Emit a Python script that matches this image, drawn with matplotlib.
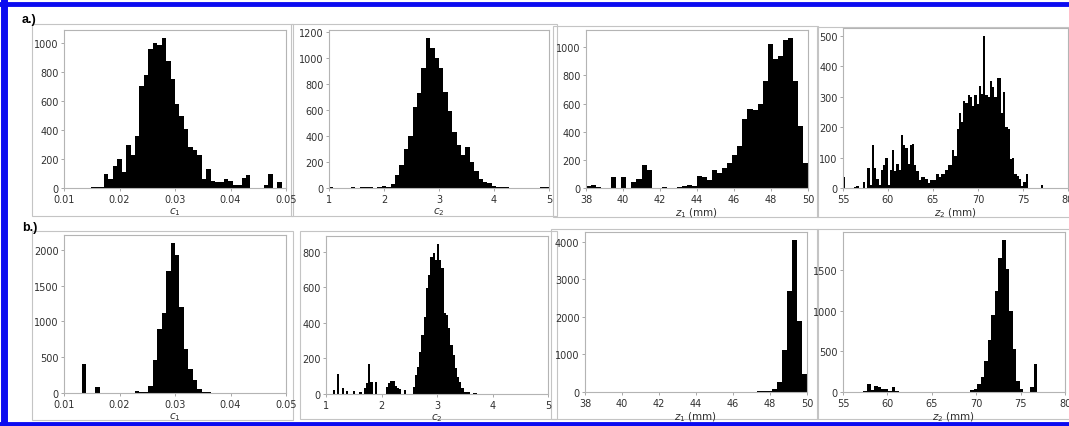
import numpy as np
import matplotlib
matplotlib.use('Agg')
import matplotlib.pyplot as plt
from matplotlib.patches import Rectangle
from matplotlib.lines import Line2D
from matplotlib.ticker import MultipleLocator

# ---------------- data (histogram bin counts) ----------------
# row a.)
a1_range = (0.01, 0.05)
a1_counts = [2, 0, 0, 0, 0, 3, 8, 4, 5, 99,
             64, 152, 202, 110, 299, 225, 359, 708, 784, 961,
             1002, 988, 1041, 880, 754, 582, 497, 409, 283, 260,
             230, 64, 129, 46, 41, 41, 64, 46, 23, 23,
             69, 87, 0, 0, 0, 20, 99, 0, 41, 0]

a2_range = (1.0, 5.0)
a2_counts = [5, 3, 2, 3, 2, 4, 3, 4, 10, 5,
             3, 6, 12, 10, 33, 97, 179, 301, 398, 620,
             728, 922, 1157, 1080, 1000, 922, 735, 595, 429, 327,
             255, 319, 199, 128, 71, 46, 40, 18, 10, 6,
             4, 3, 2, 3, 2, 2, 3, 2, 6, 10]

a3_range = (38.0, 50.0)
a3_counts = [15, 18, 5, 0, 3, 80, 0, 75, 0, 45,
             65, 165, 130, 3, 0, 8, 0, 2, 5, 12,
             20, 15, 85, 75, 60, 125, 110, 145, 180, 235,
             300, 490, 560, 555, 600, 760, 1025, 915, 940, 1050,
             1070, 760, 440, 180]

a4_range = (55.0, 78.0)
a4_counts = [35, 0, 0, 0, 0, 3, 5, 0, 0, 20, 0, 65, 10,
             142, 65, 30, 10, 60, 75, 100, 10, 60, 125,
             55, 80, 60, 175, 140, 130, 80, 140, 145, 75,
             55, 25, 35, 35, 30, 15, 25, 25, 25, 45,
             35, 45, 45, 60, 75, 75, 125, 105, 195, 245,
             215, 285, 280, 305, 300, 270, 305, 275, 335, 310,
             500, 305, 300, 350, 330, 300, 360, 360, 245, 315,
             200, 195, 95, 100, 45, 40, 30, 5, 20, 45,
             0, 0, 0, 0, 0, 0, 10, 0, 0, 0]

# row b.)
b1_range = (0.01, 0.05)
b1_counts = [0, 0, 0, 0, 400, 0, 0, 80, 0, 0,
             0, 0, 0, 0, 2, 5, 30, 8, 10, 93,
             465, 888, 1121, 1707, 2102, 1930, 1200, 620, 335, 185,
             50, 20, 8, 4, 3, 2, 2, 2, 2, 2,
             2, 3, 6, 2, 0, 0, 0, 0, 0, 0]

b2_range = (1.0, 5.0)
b2_counts = [0, 0, 0, 22, 0, 110, 0, 32, 0, 19,
             0, 0, 15, 0, 0, 13, 0, 32, 60, 167,
             69, 0, 65, 0, 0, 0, 0, 41, 64, 75,
             75, 47, 33, 28, 0, 22, 0, 0, 0, 40,
             107, 154, 238, 331, 434, 594, 669, 772, 790, 753,
             846, 753, 706, 453, 444, 369, 275, 219, 144, 97,
             69, 32, 13, 9, 9, 0, 7, 7, 0, 0,
             0, 0, 0, 0, 0, 0, 0, 0, 0, 0,
             0, 0, 0, 0, 0, 0, 0, 0, 0, 0,
             0, 0, 0, 0, 0, 0, 0, 0, 0, 0]

b3_range = (38.0, 50.0)
b3_counts = [0, 0, 0, 0, 0, 0, 0, 0, 0, 0,
             0, 0, 0, 0, 0, 0, 0, 0, 0, 0,
             0, 0, 0, 0, 0, 0, 0, 0, 12, 4,
             3, 8, 10, 12, 15, 15, 25, 80, 270, 1130,
             2700, 4060, 1900, 490]

b4_range = (57.3, 76.9)
b4_counts = [8, 100, 25, 70, 65, 40, 35, 10, 65, 12,
             3, 0, 2, 0, 2, 3, 2, 0, 2, 3,
             2, 0, 3, 2, 0, 3, 2, 3, 2, 5,
             20, 35, 100, 180, 380, 640, 950, 1250, 1650, 1880,
             1520, 1000, 530, 130, 40, 0, 0, 60, 350]

xlabels = ['$c_1$', '$c_2$', '$z_1$ (mm)', '$z_2$ (mm)']
xlims = [(0.01, 0.05), (1, 5), (38, 50), (55, 80)]
xsteps = [0.01, 1, 2, 5]
ysteps_a = [200, 200, 200, 100]
ysteps_b = [500, 200, 1000, 500]
row_labels = ['a.)', 'b.)']

# ---------------- layout (pixels) ----------------
W, H = 1069, 427
fig = plt.figure(figsize=(W / 100, H / 100), dpi=100)

def px_axes(left, top, right, bottom):
    return fig.add_axes([left / W, 1 - bottom / H, (right - left) / W, (bottom - top) / H])

axes_px = [
    [(64, 31, 286, 189), (329, 31, 549, 189), (586, 31, 808, 189), (843, 29, 1068, 189)],
    [(64, 236, 286, 394), (326, 237, 548, 395), (585, 233, 807, 393), (843, 233, 1065, 393)],
]
frames_px = [
    [(32, 25, 293, 217), (291, 25, 557, 217), (553, 27, 818, 218), (817, 28, 1075, 218)],
    [(32, 232, 293, 421), (300, 232, 557, 420), (551, 230, 818, 420), (817, 230, 1075, 420)],
]

# light grey frames of the individual sub-images
for row in frames_px:
    for (l, t, r, b) in row:
        fig.add_artist(Rectangle((l / W, 1 - b / H), (r - l) / W, (b - t) / H,
                                 transform=fig.transFigure, fill=False,
                                 edgecolor='#c4c4c4', lw=0.8, zorder=0))

rows = [
    [(a1_range, a1_counts), (a2_range, a2_counts), (a3_range, a3_counts), (a4_range, a4_counts)],
    [(b1_range, b1_counts), (b2_range, b2_counts), (b3_range, b3_counts), (b4_range, b4_counts)],
]
ysteps = [ysteps_a, ysteps_b]

for r in range(2):
    for c in range(4):
        ax = px_axes(*axes_px[r][c])
        rng, counts = rows[r][c]
        counts = np.asarray(counts, dtype=float)
        edges = np.linspace(rng[0], rng[1], len(counts) + 1)
        ax.bar(edges[:-1], counts, width=np.diff(edges), align='edge',
               color='black', linewidth=0)
        ax.set_xlim(*xlims[c])
        ax.set_ylim(0, counts.max() * 1.05)
        ax.xaxis.set_major_locator(MultipleLocator(xsteps[c]))
        ax.yaxis.set_major_locator(MultipleLocator(ysteps[r][c]))
        if c == 0:
            ax.xaxis.set_major_formatter(matplotlib.ticker.FormatStrFormatter('%.2f'))
        ax.tick_params(labelsize=7, length=2.5, width=0.6, pad=1.5,
                       colors='#9a9a9a', labelcolor='#303030')
        for s in ax.spines.values():
            s.set_color('#b4b4b4')
            s.set_linewidth(0.8)
        ax.set_xlabel(xlabels[c], fontsize=7.5, color='#303030', labelpad=1)

# row labels
fig.text(22 / W, 1 - 20 / H, row_labels[0], fontsize=9, fontweight='bold',
         family='Liberation Sans', va='center', ha='left')
fig.text(22 / W, 1 - 228 / H, row_labels[1], fontsize=9, fontweight='bold',
         family='Liberation Sans', va='center', ha='left')

# blue border
blue = '#0b0bf0'
fig.add_artist(Line2D([0, 1], [1 - 5 / H, 1 - 5 / H], transform=fig.transFigure, color=blue, lw=3.5))
fig.add_artist(Line2D([3.5 / W, 3.5 / W], [0, 1 - 3 / H], transform=fig.transFigure, color=blue, lw=5))
fig.add_artist(Line2D([0, 1], [2.5 / H, 2.5 / H], transform=fig.transFigure, color=blue, lw=3.5))

fig.savefig('out.png', dpi=100)
